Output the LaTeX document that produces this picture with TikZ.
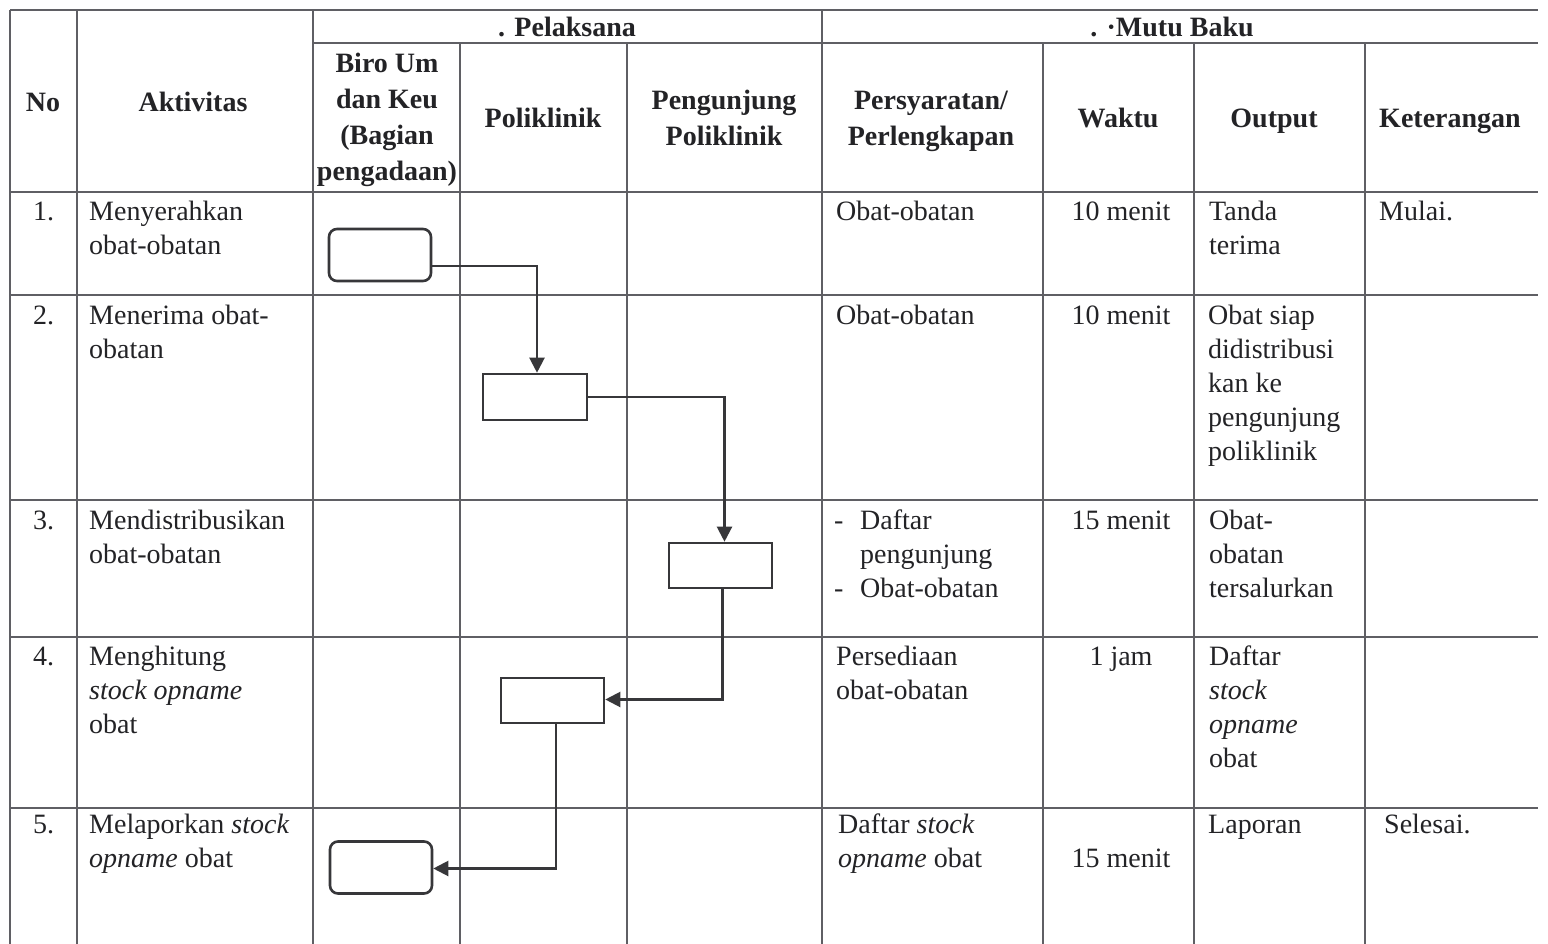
\documentclass[tikz,border=0pt]{standalone}
\usepackage{fontspec}
\setmainfont{Liberation Serif}
\usetikzlibrary{arrows.meta}
\definecolor{gridc}{RGB}{95,95,100}
\definecolor{boxc}{RGB}{55,55,58}
\definecolor{textc}{RGB}{35,35,38}
\newcommand{\bodyfont}{\fontsize{28}{34}\selectfont}
\newcommand{\headfont}{\fontsize{28}{36}\selectfont\bfseries}
\tikzset{
  grid/.style={draw=gridc, line width=1.4pt},
  txt/.style={inner sep=0pt, anchor=north west, align=left, font=\bodyfont, text=textc},
  txtc/.style={inner sep=0pt, anchor=north, align=center, font=\bodyfont, text=textc},
  hd/.style={inner sep=0pt, anchor=north, align=center, font=\headfont, text=textc},
  rbox/.style={draw=boxc, line width=2.6pt, rounded corners=8pt, minimum width=102pt, minimum height=52pt, inner sep=0pt},
  pbox/.style={draw=boxc, line width=2.6pt, minimum width=103pt, minimum height=45pt, inner sep=0pt},
  conn/.style={draw=boxc, line width=2.2pt, -{Triangle[length=15pt,width=15pt]}}
}
\begin{document}
\begin{tikzpicture}[x=1pt,y=-1pt]
\useasboundingbox[fill=white] (0,0) rectangle (1548,944);
% table grid
\foreach \yy in {10,192,295,500,637,808} \draw[grid] (10,\yy) -- (1538,\yy);
\draw[grid] (313,43) -- (1538,43);
\foreach \xx in {10,77,313,822} \draw[grid] (\xx,10) -- (\xx,944);
\foreach \xx in {460,627,1043,1194,1365} \draw[grid] (\xx,43) -- (\xx,944);
% header
\node[hd] (hNo) at (43,85.8) {\strut No};
\node[hd] (hAk) at (193,85.8) {\strut Aktivitas};
\node[hd] (hPel) at (567,10.8) {\strut . Pelaksana};
\node[hd] (hMB) at (1172,10.8) {\strut . ·Mutu Baku};
\node[hd] (hBiro) at (387,46.8) {\strut Biro Um\\dan Keu\\(Bagian\\pengadaan)};
\node[hd] (hPoli) at (543,101.8) {\strut Poliklinik};
\node[hd] (hPeng) at (724,83.8) {\strut Pengunjung\\Poliklinik};
\node[hd] (hPer) at (931,83.8) {\strut Persyaratan/\\Perlengkapan};
\node[hd] (hW) at (1118,101.8) {\strut Waktu};
\node[hd] (hO) at (1274,101.8) {\strut Output};
\node[hd] (hK) at (1450,101.8) {\strut Keterangan};
% row 1
\node[txt] (n1) at (33,196.2) {\strut 1.};
\node[txt] (a1) at (89,196.2) {\strut Menyerahkan\\obat-obatan};
\node[txt] (p1) at (836,196.2) {\strut Obat-obatan};
\node[txtc] (w1) at (1121,196.2) {\strut 10 menit};
\node[txt] (o1) at (1209,196.2) {\strut Tanda\\terima};
\node[txt] (k1) at (1379,196.2) {\strut Mulai.};
% row 2
\node[txt] (n2) at (33,300.2) {\strut 2.};
\node[txt] (a2) at (89,300.2) {\strut Menerima obat-\\obatan};
\node[txt] (p2) at (836,300.2) {\strut Obat-obatan};
\node[txtc] (w2) at (1121,300.2) {\strut 10 menit};
\node[txt] (o2) at (1208,300.2) {\strut Obat siap\\didistribusi\\kan ke\\pengunjung\\poliklinik};
% row 3
\node[txt] (n3) at (33,505.2) {\strut 3.};
\node[txt] (a3) at (89,505.2) {\strut Mendistribusikan\\obat-obatan};
\node[txt] (p3d) at (834,505.2) {\strut -\\\strut\\-};
\node[txt] (p3) at (860,505.2) {\strut Daftar\\pengunjung\\Obat-obatan};
\node[txtc] (w3) at (1121,505.2) {\strut 15 menit};
\node[txt] (o3) at (1209,505.2) {\strut Obat-\\obatan\\tersalurkan};
% row 4
\node[txt] (n4) at (33,641.2) {\strut 4.};
\node[txt] (a4) at (89,641.2) {\strut Menghitung\\\textit{stock opname}\\obat};
\node[txt] (p4) at (836,641.2) {\strut Persediaan\\obat-obatan};
\node[txtc] (w4) at (1121,641.2) {\strut 1 jam};
\node[txt] (o4) at (1209,641.2) {\strut Daftar\\\textit{stock}\\\textit{opname}\\obat};
% row 5
\node[txt] (n5) at (33,809.2) {\strut 5.};
\node[txt] (a5) at (89,809.2) {\strut Melaporkan \textit{stock}\\\textit{opname} obat};
\node[txt] (p5) at (838,809.2) {\strut Daftar \textit{stock}\\\textit{opname} obat};
\node[txtc] (w5) at (1121,843.2) {\strut 15 menit};
\node[txt] (o5) at (1208,809.2) {\strut Laporan};
\node[txt] (k5) at (1384,809.2) {\strut Selesai.};
% flow shapes
\node[rbox] (b1) at (380,255) {};
\node[pbox, minimum width=104pt, minimum height=46pt] (b2) at (535,397) {};
\node[pbox] (b3) at (720.5,565.5) {};
\node[pbox] (b4) at (552.5,700.5) {};
\node[rbox] (b5) at (381,867.5) {};
% connectors
\draw[conn] ([yshift=-11pt]b1.east) -| ([xshift=2pt]b2.north);
\draw[conn] (b2.east) -| ([xshift=4pt]b3.north);
\draw[conn] ([xshift=2pt]b3.south) |- ([yshift=1pt]b4.east);
\draw[conn] ([xshift=3.5pt]b4.south) |- ([yshift=-1pt]b5.east);
\end{tikzpicture}
\end{document}
